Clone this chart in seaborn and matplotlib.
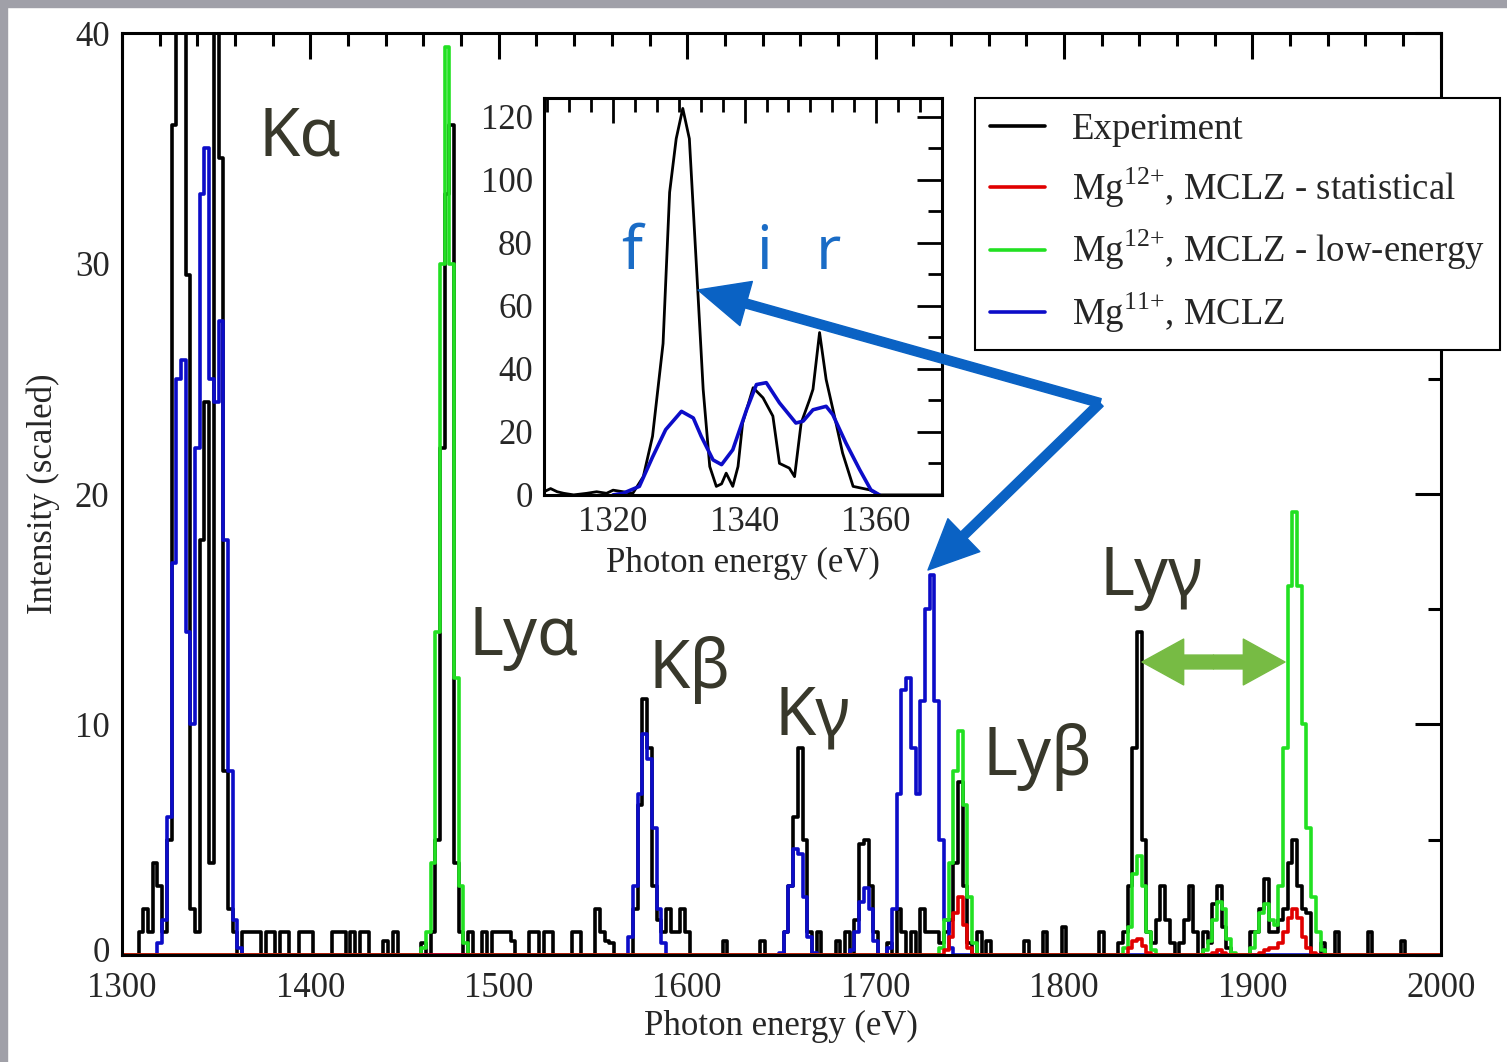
import matplotlib
matplotlib.use('Agg')  # no display
import matplotlib.pyplot as plt
import matplotlib.transforms as mtransforms
from matplotlib.patches import FancyArrowPatch, Rectangle
from matplotlib.lines import Line2D
from matplotlib.ticker import MultipleLocator, AutoMinorLocator
import numpy as np
import pandas as pd
import seaborn as sns

BIN = 2.5
energy = np.arange(1300, 2000 + BIN / 2, BIN)

# measured spectrum, one row per 50 eV (bins of 2.5 eV starting at 1300 eV)
exp_counts = [
    0, 0, 0, 0, 1, 2, 1, 4, 3, 1, 5, 36, 55, 52, 29.5, 2, 1, 18, 24, 4,            # 1300
    60, 34.6, 8, 2, 1, 0, 1, 1, 1, 1, 0, 1, 1, 0, 1, 1, 0, 0, 1, 1,                # 1350
    1, 0, 0, 0, 0, 1, 1, 1, 0, 1, 0, 1, 1, 0, 0, 0, 0.6, 0, 1, 0,                  # 1400
    0, 0, 0, 0, 0.5, 0, 1, 5, 22, 33, 36, 4, 1, 0, 1, 0, 0, 1, 0, 1,               # 1450
    1, 1, 1, 0.6, 0, 0, 0, 1, 1, 0, 1, 1, 0, 0, 0, 0, 1, 1, 0, 0,                  # 1500
    0, 2, 1, 0.6, 0.5, 0, 0, 0, 0, 2, 6.5, 11.1, 9, 3, 1.5, 1, 2, 1, 1, 2,         # 1550
    1, 0, 0, 0, 0, 0, 0, 0, 0.6, 0, 0, 0, 0, 0, 0, 0, 0.6, 0, 0, 0,                # 1600
    0, 1, 3, 6, 9, 5, 1, 0, 1, 0, 0, 0, 0.6, 0, 1, 0, 1.5, 4.8, 5, 3,              # 1650
    1, 0, 0, 0.5, 0, 2, 1, 0, 1, 0, 2, 1, 1, 1, 0.5, 1, 1.5, 4, 7.5, 3,            # 1700
    0.5, 0, 1, 0, 0.6, 0, 0, 0, 0, 0, 0, 0, 0.6, 0, 0, 0, 1, 0, 0, 0,              # 1750
    1.2, 0, 0, 0, 0, 0, 0, 0, 1, 0, 0, 0, 0.5, 1, 3, 9, 14, 5, 1, 0.5,             # 1800
    1.5, 3, 1.5, 0.5, 0, 0.5, 1.5, 3, 1, 0, 1, 0.5, 2.2, 3, 1.2, 0.3, 0, 0, 0, 0,  # 1850
    1, 1, 2, 3.3, 1, 1, 1.5, 2, 4, 5, 3, 2, 1.8, 0, 0, 0.5, 0, 0, 1, 0,            # 1900
    0, 0, 0, 0, 0, 1, 0, 0, 0, 0, 0, 0, 0.6, 0, 0, 0, 0, 0, 0, 0,                  # 1950
    0,                                                                              # 2000
]

# model spectra: start energy -> consecutive 2.5 eV bins (zero elsewhere)
mg12_stat = {
    1735.0: [0, 0.2, 0.8, 1.8, 2.5, 1.3, 0.3, 0],
    1832.5: [0, 0.3, 0.6, 0.7, 0.4, 0.1, 0],
    1877.5: [0, 0.1, 0.2, 0.1, 0],
    1902.5: [0, 0.1, 0.2, 0.3, 0.3, 0.5, 1, 1.6, 2, 1.6, 0.8, 0.3, 0.1, 0],
}
mg12_low = {
    1457.5: [0, 0.3, 1, 4, 14, 30, 39.4, 30, 12, 3, 0.5, 0],
    1732.5: [0, 0.3, 1.5, 4, 8, 9.7, 6.5, 2.5, 0.5, 0],
    1830.0: [0, 0.3, 1.2, 3.5, 4.3, 3, 1, 0.2, 0],
    1872.5: [0, 0.2, 0.6, 1.5, 2.3, 2, 0.7, 0.1, 0],
    1897.5: [0, 0.3, 1, 1.8, 2.2, 1.5, 1.3, 3, 9, 16, 19.2, 16, 10, 5.5, 2.5, 1, 0.2, 0],
}
mg11 = {
    1317.5: [0, 0.5, 1.5, 6, 17, 25, 25.8, 14, 10, 22, 33, 35, 25, 24, 27.5, 18, 8, 1.5, 0.3, 0],
    1567.5: [0, 0.8, 3, 7, 9.6, 8.5, 5.5, 2, 0.5, 0],
    1647.5: [0, 0.1, 1, 3, 4.6, 4.4, 2.5, 0.8, 0.1, 0],
    1685.0: [0, 0.2, 1, 2.3, 2.9, 2, 0.6, 0],
    1705.0: [0, 0.3, 2, 7, 11.5, 12, 9, 7, 11, 15, 16.5, 11, 5, 1.5, 0.3, 0],
}

# inset: He-like Mg triplet (f, i, r)
inset_exp_energy = [1309.5, 1310.5, 1311.5, 1312.5, 1314, 1316, 1317.5, 1319, 1320, 1321.5,
                    1323, 1324.6, 1326, 1327.6, 1328.6, 1329.6, 1330.6, 1331.6, 1332.7, 1333.7,
                    1334.7, 1335.7, 1336.5, 1337.2, 1338.2, 1339, 1339.7, 1341.3, 1342.8, 1344.3,
                    1345.3, 1346.8, 1347.6, 1348.6, 1349.9, 1350.4, 1351.4, 1352.4, 1353.9, 1354.9,
                    1356.5, 1359, 1360.5, 1370]
inset_exp_counts = [1, 2, 1, 0.5, 0, 0.5, 1, 0.5, 1.5, 1,
                    0.5, 5.8, 18.6, 48, 96, 113, 122.6, 113, 71.7, 33.5,
                    9, 2.7, 3.5, 6.9, 2.7, 9, 22.8, 34, 30.8, 25,
                    10, 8.5, 5.8, 22.8, 30.3, 33.5, 51.5, 36.6, 22.8, 13.3,
                    2.7, 1.6, 0, 0]
inset_mg11_energy = [1320, 1321.5, 1324, 1326, 1328, 1330.4, 1332.2, 1333.4, 1335.2, 1336.5,
                     1338.2, 1340.3, 1341.8, 1343.3, 1345.3, 1347.8, 1348.9, 1350.4, 1352.4,
                     1353.4, 1355.4, 1357.5, 1359.2, 1360.5]
inset_mg11_counts = [0, 0.5, 2.7, 12, 20.7, 26.5, 24.4, 18.6, 11.1, 9.6,
                     14.3, 27, 35, 35.6, 29.2, 22.8, 23.4, 27, 28.1,
                     25.5, 16.5, 8, 1.6, 0]

series_names = ['Experiment', 'Mg$^{\\mathregular{12{+}}}$, MCLZ - statistical',
                'Mg$^{\\mathregular{12{+}}}$, MCLZ - low-energy', 'Mg$^{\\mathregular{11{+}}}$, MCLZ']
colors = ['black', '#e00000', '#22e022', '#0c0cc8']

line_labels = ['K\u03b1', 'Ly\u03b1', 'K\u03b2', 'K\u03b3', 'Ly\u03b2', 'Ly\u03b3']
line_label_pos = [(1394.5, 34.7), (1513.5, 13.0), (1601.5, 11.6),
                  (1666.2, 9.55), (1785.7, 7.8), (1846.5, 15.6)]


def fill_bins(segments):
    vals = np.zeros_like(energy)
    for start, seg in segments.items():
        i = int(round((start - 1300) / BIN))
        vals[i:i + len(seg)] = seg
    return vals


frames = []
for name, vals in zip(series_names, [np.array(exp_counts, float), fill_bins(mg12_stat),
                                     fill_bins(mg12_low), fill_bins(mg11)]):
    frames.append(pd.DataFrame({'energy': energy, 'intensity': vals, 'series': name}))
df = pd.concat(frames, ignore_index=True)

sns.set_theme(style="white")
plt.rcParams['font.family'] = ['Liberation Serif', 'DejaVu Serif']
plt.rcParams['mathtext.fontset'] = 'custom'
plt.rcParams['mathtext.rm'] = 'Liberation Serif'

fig = plt.figure(figsize=(15.07, 10.62), dpi=100)
fig.patch.set_facecolor('white')

ax = fig.add_axes([0.081, 0.1008, 0.875, 0.868])
# draw order: experiment, Mg11+, low-energy, statistical on top
order = [series_names[0], series_names[3], series_names[2], series_names[1]]
pal = dict(zip(series_names, colors))
sns.lineplot(data=df, x='energy', y='intensity', hue='series', hue_order=order,
             palette=pal, estimator=None, drawstyle='steps-mid', linewidth=2.6,
             legend=False, ax=ax)

ax.set_xlim(1300, 2000)
ax.set_ylim(0, 40)
ax.xaxis.set_major_locator(MultipleLocator(100))
ax.xaxis.set_minor_locator(MultipleLocator(20))
ax.yaxis.set_major_locator(MultipleLocator(10))
ax.yaxis.set_minor_locator(MultipleLocator(5))
ax.tick_params(which='both', direction='in', top=True, right=True, width=2.2,
               color='black', labelsize=25)
ax.tick_params(axis='x', pad=12)
ax.tick_params(axis='y', pad=9)
ax.tick_params(which='major', length=19)
ax.tick_params(which='minor', length=9.5)
for sp in ax.spines.values():
    sp.set_linewidth(2.2)
    sp.set_color('black')
ax.set_xlabel('Photon energy (eV)', fontsize=25, labelpad=4)
ax.set_ylabel('Intensity (scaled)', fontsize=25, labelpad=11)

for lab, (x, y) in zip(line_labels, line_label_pos):
    ax.text(x, y, lab, ha='center', va='baseline', fontsize=48, color='#38382b',
            family=['Noto Sans', 'DejaVu Sans'])

handles = [Line2D([], [], color=c, lw=2.6) for c in colors]
leg = ax.legend(handles, series_names, loc='upper right', bbox_to_anchor=(0.9954, 0.9077),
                bbox_transform=fig.transFigure, fontsize=26.5, frameon=True, fancybox=False,
                framealpha=1, edgecolor='black', borderaxespad=0, handlelength=1.5,
                handletextpad=0.75, labelspacing=0.5, borderpad=0.4)
leg.get_frame().set_linewidth(1.5)

# inset
ins = fig.add_axes([0.361, 0.534, 0.264, 0.374])
ins.set_facecolor('white')
sns.lineplot(x=inset_exp_energy, y=inset_exp_counts, color='black', linewidth=2.0,
             estimator=None, ax=ins)
sns.lineplot(x=inset_mg11_energy, y=inset_mg11_counts, color='#0c0cc8', linewidth=2.6,
             estimator=None, ax=ins)
ins.set_xlim(1309.5, 1370)
ins.set_ylim(0, 126)
ins.xaxis.set_major_locator(MultipleLocator(20))
ins.xaxis.set_minor_locator(AutoMinorLocator(6))
ins.yaxis.set_major_locator(MultipleLocator(20))
ins.yaxis.set_minor_locator(MultipleLocator(10))
ins.tick_params(which='both', direction='in', top=True, right=True, width=2.0,
                color='black', labelsize=25, pad=8)
ins.tick_params(which='major', length=18)
ins.tick_params(which='minor', length=10)
for sp in ins.spines.values():
    sp.set_linewidth(2.2)
    sp.set_color('black')
ins.set_xlabel('Photon energy (eV)', fontsize=25, labelpad=6)
for lab, x in zip(['f', 'i', 'r'], [1322.8, 1343.0, 1352.8]):
    ins.text(x, 71.6, lab, ha='center', va='baseline', fontsize=44, color='#1a6cc6',
             family=['Noto Sans', 'DejaVu Sans'])

# arrows (figure fraction)
W, H = 1507.0, 1062.0
tail = (1100 / W, 1 - 403 / H)
for tip in [(698 / W, 1 - 290 / H), (928 / W, 1 - 570 / H)]:
    fig.add_artist(FancyArrowPatch(tail, tip, transform=fig.transFigure,
                                   arrowstyle='simple,head_length=36,head_width=33,tail_width=6.5',
                                   mutation_scale=1, shrinkA=0, shrinkB=0,
                                   color='#0a62c4', zorder=5))
mid = (1213.5 / W, 1 - 662 / H)
for tip in [(1142 / W, 1 - 662 / H), (1285 / W, 1 - 662 / H)]:
    fig.add_artist(FancyArrowPatch(mid, tip, transform=fig.transFigure,
                                   arrowstyle='simple,head_length=30,head_width=33,tail_width=10',
                                   mutation_scale=1, shrinkA=0, shrinkB=0,
                                   color='#77bb44', zorder=5))

# grey slide border at top and left
fig.add_artist(Rectangle((0, 1 - 7 / H), 1, 7 / H, transform=fig.transFigure,
                         color='#a0a0a8', zorder=-1))
fig.add_artist(Rectangle((0, 0), 7 / W, 1, transform=fig.transFigure,
                         color='#a0a0a8', zorder=-1))

# lift the y "0" a few pixels so it clears the "1300" underneath
fig.canvas.draw()
lift = mtransforms.ScaledTranslation(0, 4 / 72, fig.dpi_scale_trans)
for tick in ax.yaxis.get_major_ticks():
    if abs(tick.get_loc()) < 1e-9:
        tick.label1.set_transform(tick.label1.get_transform() + lift)

plt.savefig('out.png', dpi=100)
plt.close(fig)
